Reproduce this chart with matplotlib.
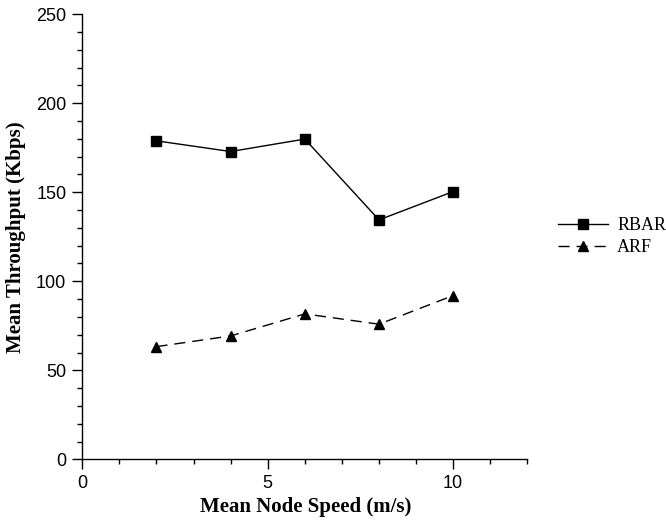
import numpy as np
import matplotlib
matplotlib.use("Agg")
import matplotlib.pyplot as plt
from matplotlib.ticker import MultipleLocator

# data
speed = [2, 4, 6, 8, 10]
rbar = [178.9, 172.9, 179.9, 134.5, 150.4]
arf = [63.3, 69.3, 81.7, 75.9, 92.0]

fig = plt.figure(figsize=(6.66, 5.21), dpi=100)
ax = fig.add_axes([0.1236, 0.1184, 0.6682, 0.8542])

ax.plot(speed, rbar, color='black', lw=1.0, marker='s', markersize=7,
        label='RBAR')
ax.plot(speed, arf, color='black', lw=1.0, ls=(0, (8, 5)), marker='^',
        markersize=7, label='ARF')

ax.set_xlim(0, 12)
ax.set_ylim(0, 250)
ax.xaxis.set_major_locator(MultipleLocator(5))
ax.xaxis.set_minor_locator(MultipleLocator(1))
ax.yaxis.set_major_locator(MultipleLocator(50))
ax.yaxis.set_minor_locator(MultipleLocator(10))

ax.spines['top'].set_visible(False)
ax.spines['right'].set_visible(False)
for s in ('left', 'bottom'):
    ax.spines[s].set_linewidth(1.0)

ax.tick_params(which='major', direction='out', length=7, width=1.0, pad=4.5,
               labelsize=13)
ax.tick_params(which='minor', direction='out', length=3.5, width=1.0)
for lab in ax.get_xticklabels() + ax.get_yticklabels():
    lab.set_fontfamily('Liberation Sans')

ax.set_xlabel('Mean Node Speed (m/s)', fontsize=15, fontweight='bold',
              family='Liberation Serif')
ax.set_ylabel('Mean Throughput (Kbps)', fontsize=15, fontweight='bold',
              family='Liberation Serif')
ax.xaxis.set_label_coords(0.502, -0.085)
ax.yaxis.set_label_coords(-0.1265, 0.5)

fig.legend(loc='center left', bbox_to_anchor=(0.8374, 0.546),
           bbox_transform=fig.transFigure, frameon=False, borderpad=0,
           borderaxespad=0, handlelength=2.8, handletextpad=0.5,
           labelspacing=0.28, numpoints=1,
           prop={'family': 'Liberation Serif', 'size': 13})

fig.savefig('out.png', dpi=100)
